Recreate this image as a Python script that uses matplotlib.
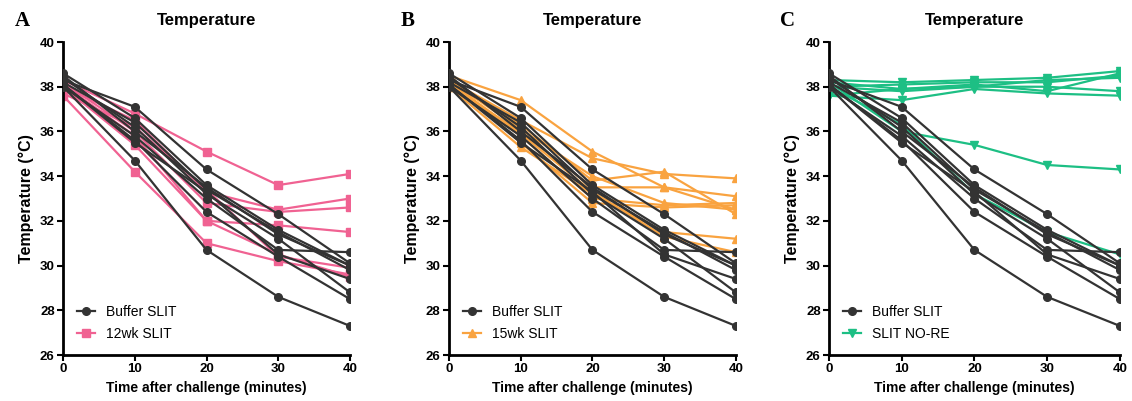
import matplotlib.pyplot as plt
from matplotlib.lines import Line2D

plt.rcParams["font.family"] = ["Liberation Sans", "DejaVu Sans"]

times = [0, 10, 20, 30, 40]

# buffer SLIT mice (same in every panel)
buffer_slit = [
    [38.0, 34.7, 30.7, 28.6, 27.3],
    [38.3, 37.1, 34.3, 32.3, 30.1],
    [38.1, 35.6, 32.4, 30.4, 28.5],
    [38.6, 36.6, 33.6, 31.6, 30.0],
    [38.2, 36.4, 33.4, 31.5, 29.8],
    [38.0, 35.8, 33.0, 30.7, 30.6],
    [38.4, 36.2, 33.2, 31.2, 28.8],
    [38.1, 35.5, 33.3, 30.5, 29.4],
    [38.5, 36.0, 33.5, 31.4, 30.0],
]

slit_12wk = [
    [38.3, 36.8, 35.1, 33.6, 34.1],
    [38.0, 36.5, 33.3, 32.5, 33.0],
    [38.2, 36.0, 32.8, 32.4, 32.6],
    [38.1, 35.8, 32.0, 31.8, 31.5],
    [37.6, 34.2, 31.0, 30.2, 29.6],
    [38.0, 35.4, 32.0, 30.5, 29.5],
    [37.7, 36.2, 33.4, 30.4, 29.9],
]

slit_15wk = [
    [38.5, 37.4, 35.1, 33.5, 32.5],
    [38.3, 36.5, 34.8, 34.1, 33.9],
    [38.2, 36.3, 33.8, 34.2, 32.3],
    [38.0, 36.0, 33.5, 33.5, 33.1],
    [38.1, 35.8, 33.0, 32.7, 32.8],
    [38.4, 35.5, 32.8, 32.6, 32.7],
    [38.0, 35.3, 33.2, 31.5, 31.2],
    [38.2, 35.9, 33.3, 31.3, 30.6],
    [38.3, 36.1, 34.0, 32.8, 32.5],
]

slit_nore = [
    [38.3, 38.2, 38.3, 38.4, 38.7],
    [38.0, 38.1, 38.2, 38.2, 38.5],
    [38.2, 37.9, 38.1, 37.8, 38.6],
    [38.0, 37.8, 38.0, 38.0, 37.8],
    [37.6, 37.4, 37.9, 37.7, 37.6],
    [37.6, 37.9, 38.0, 38.3, 38.4],
    [38.2, 36.0, 35.4, 34.5, 34.3],
    [38.0, 36.3, 33.2, 31.5, 30.5],
]

panels = [
    ("A", slit_12wk, "12wk SLIT", "#f06292", "s"),
    ("B", slit_15wk, "15wk SLIT", "#f9a340", "^"),
    ("C", slit_nore, "SLIT NO-RE", "#1dbf84", "v"),
]

dark = "#333333"
fig = plt.figure(figsize=(11.32, 4.01), dpi=100)
lefts = [0.0557, 0.3966, 0.7323]
widths = [0.2535, 0.2535, 0.257]

for i, (letter, treated, label, color, marker) in enumerate(panels):
    ax = fig.add_axes([lefts[i], 0.1147, widths[i], 0.7805])
    # treated group first so buffer lines sit on top
    for row in treated:
        ax.plot(times, row, color=color, marker=marker, markersize=5.5, lw=1.6, zorder=2)
    for row in buffer_slit:
        ax.plot(times, row, color=dark, marker="o", markersize=5.5, lw=1.6, zorder=3)

    ax.set_xlim(0, 40)
    ax.set_ylim(26, 40)
    ax.set_xticks([0, 10, 20, 30, 40])
    ax.set_yticks(range(26, 41, 2))
    for s in ["top", "right"]:
        ax.spines[s].set_visible(False)
    for s in ["left", "bottom"]:
        ax.spines[s].set_linewidth(2)
        ax.spines[s].set_color("black")
    ax.tick_params(width=1.5, length=4, labelsize=9.5, direction="out", pad=2)
    for t in ax.get_xticklabels() + ax.get_yticklabels():
        t.set_fontweight("bold")
    ax.set_xlabel("Time after challenge (minutes)", fontsize=10, fontweight="bold")
    ax.set_ylabel("Temperature (°C)", fontsize=11.5, fontweight="bold")
    ax.set_title("Temperature", fontsize=12, fontweight="bold", pad=12)

    handles = [
        Line2D([], [], color=dark, marker="o", markersize=5.5, lw=1.6),
        Line2D([], [], color=color, marker=marker, markersize=5.5, lw=1.6),
    ]
    ax.legend(handles, ["Buffer SLIT", label], loc="lower left", frameon=False,
              fontsize=10, handlelength=1.3, borderaxespad=0.6, labelspacing=0.6)

    fig.text(lefts[i] - 0.043, 0.935, letter, fontsize=15, fontweight="bold",
             family="Liberation Serif")

fig.savefig("out.png", dpi=100)
